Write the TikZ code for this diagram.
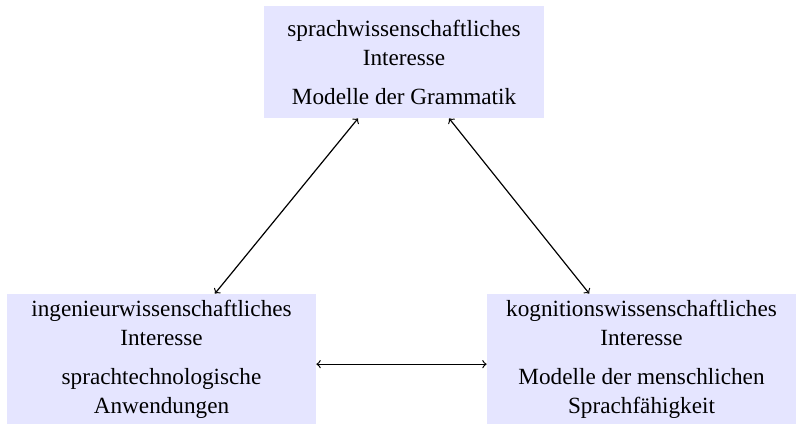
\documentclass[tikz,border=0pt]{standalone}
\usepackage{fontspec}
\setmainfont{Liberation Serif}
\usetikzlibrary{positioning}

\tikzset{
  interest/.style={fill=blue!10, align=center, inner sep=0pt,
    font=\fontsize{11.6}{14.5}\selectfont},
  topbox/.style={interest, minimum width=4.92cm, minimum height=1.968cm},
  lowbox/.style={interest, minimum width=5.43cm, minimum height=2.285cm},
  link/.style={<->, semithick}
}

\begin{document}
\begin{tikzpicture}
\useasboundingbox (0cm, 0cm) rectangle (14.058cm, 7.609cm);
\node[topbox] (lang) at (7.10cm, 6.52cm) {sprachwissenschaftliches\\Interesse\\[5pt]Modelle der Grammatik};
\node[lowbox] (eng) at (2.838cm, 1.30cm) {ingenieurwissenschaftliches\\Interesse\\[5pt]sprachtechnologische\\Anwendungen};
\node[lowbox] (cog) at (11.273cm, 1.30cm) {kognitionswissenschaftliches\\Interesse\\[5pt]Modelle der menschlichen\\Sprachfähigkeit};

\draw[link] (lang) -- (eng);
\draw[link] (lang) -- (cog);
\draw[link] ([yshift=-0.09cm]eng.east) -- ([yshift=-0.09cm]cog.west);
\end{tikzpicture}
\end{document}
